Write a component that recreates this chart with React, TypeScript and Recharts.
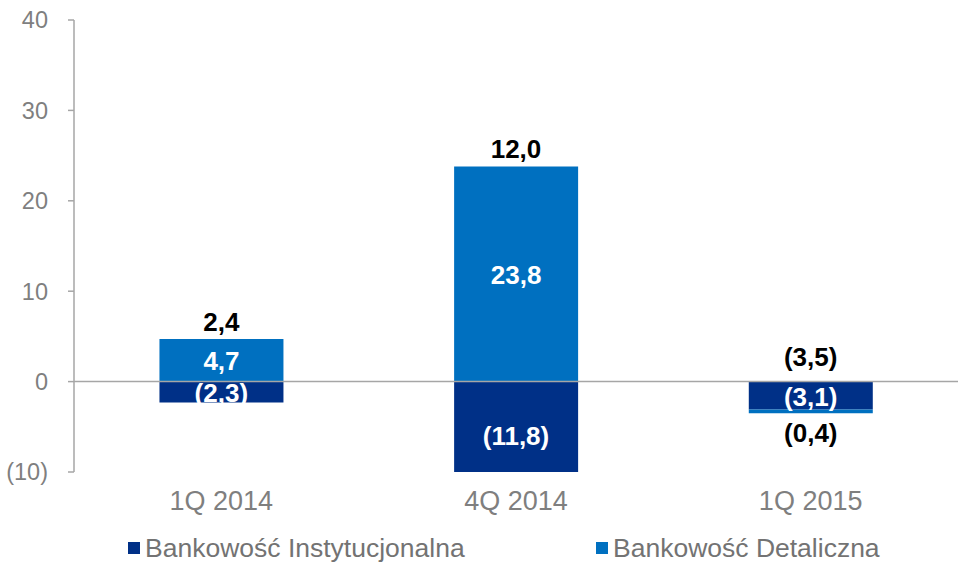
import React from "react";
import {
  BarChart,
  Bar,
  XAxis,
  YAxis,
  ReferenceLine,
  ReferenceDot,
  LabelList,
  Legend,
} from "recharts";

const categories = ["1Q 2014", "4Q 2014", "1Q 2015"];
const instytucjonalna = [-2.3, -11.8, -3.1];
const detaliczna = [4.7, 23.8, -0.4];
const totals = [2.4, 12.0, -3.5];
const yTicks = [-10, 0, 10, 20, 30, 40];

const DARK = "#003087";
const LIGHT = "#0070C0";
const AXIS = "#A6A6A6";
const FONT = "Arial, 'Liberation Sans', sans-serif";

const data = categories.map((c, i) => ({
  name: c,
  inst: instytucjonalna[i],
  det: detaliczna[i],
  total: totals[i],
  anchor: Math.max(0, instytucjonalna[i]) + Math.max(0, detaliczna[i]),
}));

const fmt = (v: number) => {
  const s = Math.abs(v).toFixed(1).replace(".", ",");
  return v < 0 ? `(${s})` : s;
};

const fmtTick = (v: number) => (v < 0 ? `(${Math.abs(v)})` : `${v}`);

const LABEL_SIZE = 26;

const LightLabel = (props: any) => {
  const { x, y, width, height, value } = props;
  const top = Math.min(y, y + height);
  const h = Math.abs(height);
  const cx = x + width / 2;
  if (h < 14) {
    return (
      <text x={cx} y={top + h + 20} textAnchor="middle" dominantBaseline="central"
        fill="#000" fontSize={LABEL_SIZE} fontWeight="bold" fontFamily={FONT}>
        {fmt(value)}
      </text>
    );
  }
  return (
    <text x={cx} y={top + h / 2 + 1} textAnchor="middle" dominantBaseline="central"
      fill="#fff" fontSize={LABEL_SIZE} fontWeight="bold" fontFamily={FONT}>
      {fmt(value)}
    </text>
  );
};

const DotLabel = (text: string, color: string, dy: number) => (props: any) => {
  const vb = props.viewBox || {};
  const cx = vb.x + (vb.width || 0) / 2;
  const cy = vb.y + (vb.height || 0) / 2;
  return (
    <text x={cx} y={cy + dy} textAnchor="middle" dominantBaseline="central"
      fill={color} fontSize={LABEL_SIZE} fontWeight="bold" fontFamily={FONT}>
      {text}
    </text>
  );
};

const LegendContent = () => {
  const items = [
    { label: "Bankowość Instytucjonalna", color: DARK },
    { label: "Bankowość Detaliczna", color: LIGHT },
  ];
  return (
    <div style={{ display: "flex", paddingLeft: 128, fontFamily: FONT }}>
      {items.map((it, i) => (
        <div key={it.label} style={{ width: i === 0 ? 468 : "auto", flexShrink: 0, display: "flex", alignItems: "center" }}>
          <span style={{ display: "inline-block", width: 12, height: 12, background: it.color, marginRight: 5 }} />
          <span style={{ fontSize: 26.5, color: "#737373", lineHeight: "30px", whiteSpace: "nowrap" }}>{it.label}</span>
        </div>
      ))}
    </div>
  );
};

export default function App() {
  return (
    <div style={{ position: "absolute", left: 0, top: 0, background: "#fff" }}>
      <BarChart
        width={958}
        height={563}
        data={data}
        stackOffset="sign"
        barCategoryGap="29%"
        margin={{ top: 20, right: 0, left: 0, bottom: 0 }}
      >
        <XAxis
          dataKey="name"
          axisLine={false}
          tickLine={false}
          height={61}
          tickMargin={13}
          tick={{ fontSize: 27, fill: "#7F7F7F", fontFamily: FONT }}
        />
        <YAxis
          width={74}
          domain={[-10, 40]}
          ticks={yTicks}
          allowDataOverflow
          tickFormatter={fmtTick}
          axisLine={{ stroke: AXIS, strokeWidth: 1.5 }}
          tickLine={{ stroke: AXIS, strokeWidth: 1.5 }}
          tickSize={6}
          tickMargin={20}
          tick={{ fontSize: 23.5, fill: "#7F7F7F", fontFamily: FONT }}
        />
        <Bar dataKey="inst" stackId="a" fill={DARK} isAnimationActive={false} />
        <Bar dataKey="det" stackId="a" fill={LIGHT} isAnimationActive={false}>
          <LabelList dataKey="det" content={LightLabel} />
        </Bar>
        <ReferenceLine y={0} stroke={AXIS} strokeWidth={1.5} />
        {data.map((d) => (
          <ReferenceDot
            key={`i-${d.name}`}
            x={d.name}
            y={d.inst / 2}
            r={0}
            ifOverflow="visible"
            fill="none"
            stroke="none"
            label={DotLabel(fmt(d.inst), "#fff", 1)}
          />
        ))}
        {data.map((d) => (
          <ReferenceDot
            key={`t-${d.name}`}
            x={d.name}
            y={d.anchor}
            r={0}
            ifOverflow="visible"
            fill="none"
            stroke="none"
            label={DotLabel(fmt(d.total), "#000", d.anchor > 0 ? -17 : -25)}
          />
        ))}
        <Legend verticalAlign="bottom" content={LegendContent} />
      </BarChart>
    </div>
  );
}
